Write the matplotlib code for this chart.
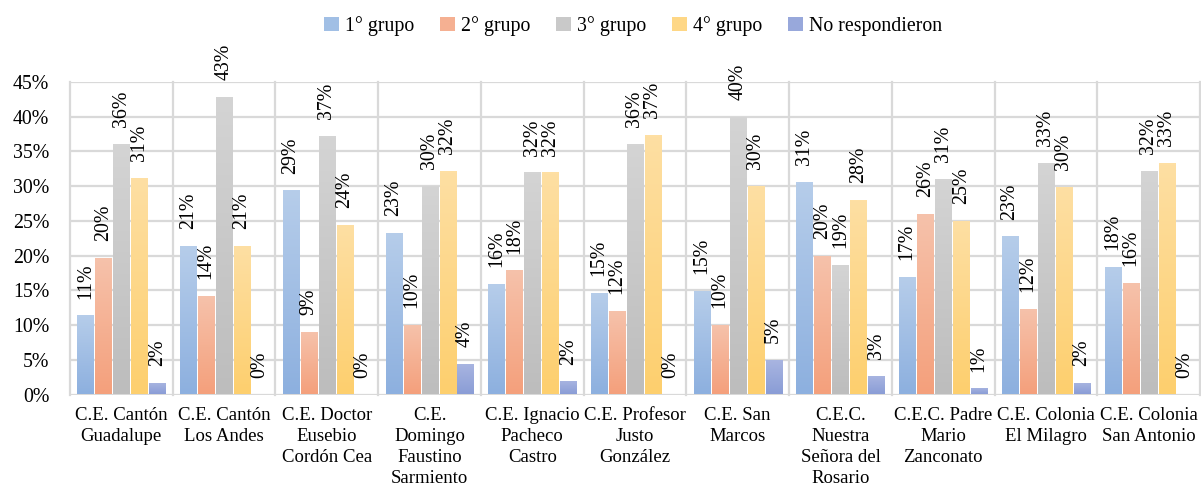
import numpy as np
import matplotlib
matplotlib.use("Agg")
import matplotlib.pyplot as plt
from matplotlib.colors import LinearSegmentedColormap
from matplotlib.patches import Patch

FS = 14.3
FS_X = 13.5
plt.rcParams['font.family'] = ['Liberation Serif', 'DejaVu Serif']
plt.rcParams['font.size'] = FS

categories = [
    "C.E. Cantón\nGuadalupe",
    "C.E. Cantón\nLos Andes",
    "C.E. Doctor\nEusebio\nCordón Cea",
    "C.E.\nDomingo\nFaustino\nSarmiento",
    "C.E. Ignacio\nPacheco\nCastro",
    "C.E. Profesor\nJusto\nGonzález",
    "C.E. San\nMarcos",
    "C.E.C.\nNuestra\nSeñora del\nRosario",
    "C.E.C. Padre\nMario\nZanconato",
    "C.E. Colonia\nEl Milagro",
    "C.E. Colonia\nSan Antonio",
]

series_names = ["1° grupo", "2° grupo", "3° grupo", "4° grupo", "No respondieron"]

grupo1 = [11.4, 21.4, 29.4, 23.3, 15.9, 14.6, 14.9, 30.6, 16.9, 22.8, 18.4]
grupo2 = [19.7, 14.2, 9.0, 10.0, 17.9, 12.0, 10.0, 20.0, 26.0, 12.3, 16.1]
grupo3 = [36.1, 42.9, 37.2, 30.0, 32.0, 36.1, 40.0, 18.7, 31.1, 33.4, 32.2]
grupo4 = [31.2, 21.4, 24.4, 32.2, 32.0, 37.4, 30.0, 28.0, 25.0, 29.9, 33.4]
no_resp = [1.7, 0.0, 0.0, 4.4, 1.9, 0.0, 5.0, 2.7, 0.9, 1.7, 0.0]

yticks = [0, 5, 10, 15, 20, 25, 30, 35, 40, 45]

# (top, bottom) colours of each bar gradient
gradients = [
    ("#b6cdea", "#8db0df"),
    ("#f6c2ab", "#f4a07c"),
    ("#d4d4d4", "#bdbdbd"),
    ("#fedfa3", "#fdcf6e"),
    ("#a9b5e1", "#8a9dd6"),
]
legend_colors = ["#a1bfe5", "#f5b092", "#c9c9c9", "#fed786", "#98a8db"]

all_series = [grupo1, grupo2, grupo3, grupo4, no_resp]

fig = plt.figure(figsize=(12.01, 4.87), dpi=100)
ax = fig.add_axes([70 / 1201, 1 - 394.5 / 487, 1130 / 1201, (394.5 - 82) / 487])

n_cat = len(categories)
x = np.arange(n_cat)
step = 0.175
width = 0.156
grid_c = "#d9d9d9"

for s, (vals, (ctop, cbot)) in enumerate(zip(all_series, gradients)):
    cmap = LinearSegmentedColormap.from_list(f"g{s}", [cbot, ctop])
    offset = (s - 2) * step
    bars = ax.bar(x + offset, vals, width, color="none", edgecolor="none", zorder=3)
    for rect, v in zip(bars, vals):
        if v > 0:
            x0 = rect.get_x()
            grad = np.linspace(0, 1, 64).reshape(-1, 1)
            im = ax.imshow(grad, cmap=cmap, origin="lower", aspect="auto",
                           extent=(x0, x0 + width, 0, v), zorder=3,
                           interpolation="bilinear")
            im.set_clip_path(rect)
        ax.annotate(f"{v:.0f}%", (rect.get_x() + width / 2, v),
                    xytext=(0, 12), textcoords="offset points",
                    rotation=90, ha="center", va="bottom", fontsize=FS,
                    color="#000000", zorder=4)

ax.set_xlim(-0.5, n_cat - 0.5)
ax.set_ylim(0, 45)
ax.set_yticks(yticks)
ax.set_yticklabels([f"{t}%" for t in yticks])
ax.set_xticks(x)
ax.set_xticklabels(categories, linespacing=1.3, fontsize=FS_X)
ax.tick_params(axis="both", length=0)
ax.tick_params(axis="y", pad=15)
ax.tick_params(axis="x", pad=9)

for t in yticks:
    ax.axhline(t, color=grid_c, lw=1.6, zorder=1)
for b in np.arange(-0.5, n_cat, 1.0):
    ax.plot([b, b], [0, 45], color=grid_c, lw=1.6, zorder=1, clip_on=False)

for sp in ax.spines.values():
    sp.set_visible(False)

handles = [Patch(facecolor=c, edgecolor="none") for c in legend_colors]
fig.legend(handles, series_names, loc="center", bbox_to_anchor=(633 / 1201, 1 - 26 / 487),
           ncol=5, frameon=False, handlelength=0.75, handleheight=0.75,
           handletextpad=0.3, columnspacing=1.3, fontsize=FS)

fig.savefig("out.png", dpi=100)
